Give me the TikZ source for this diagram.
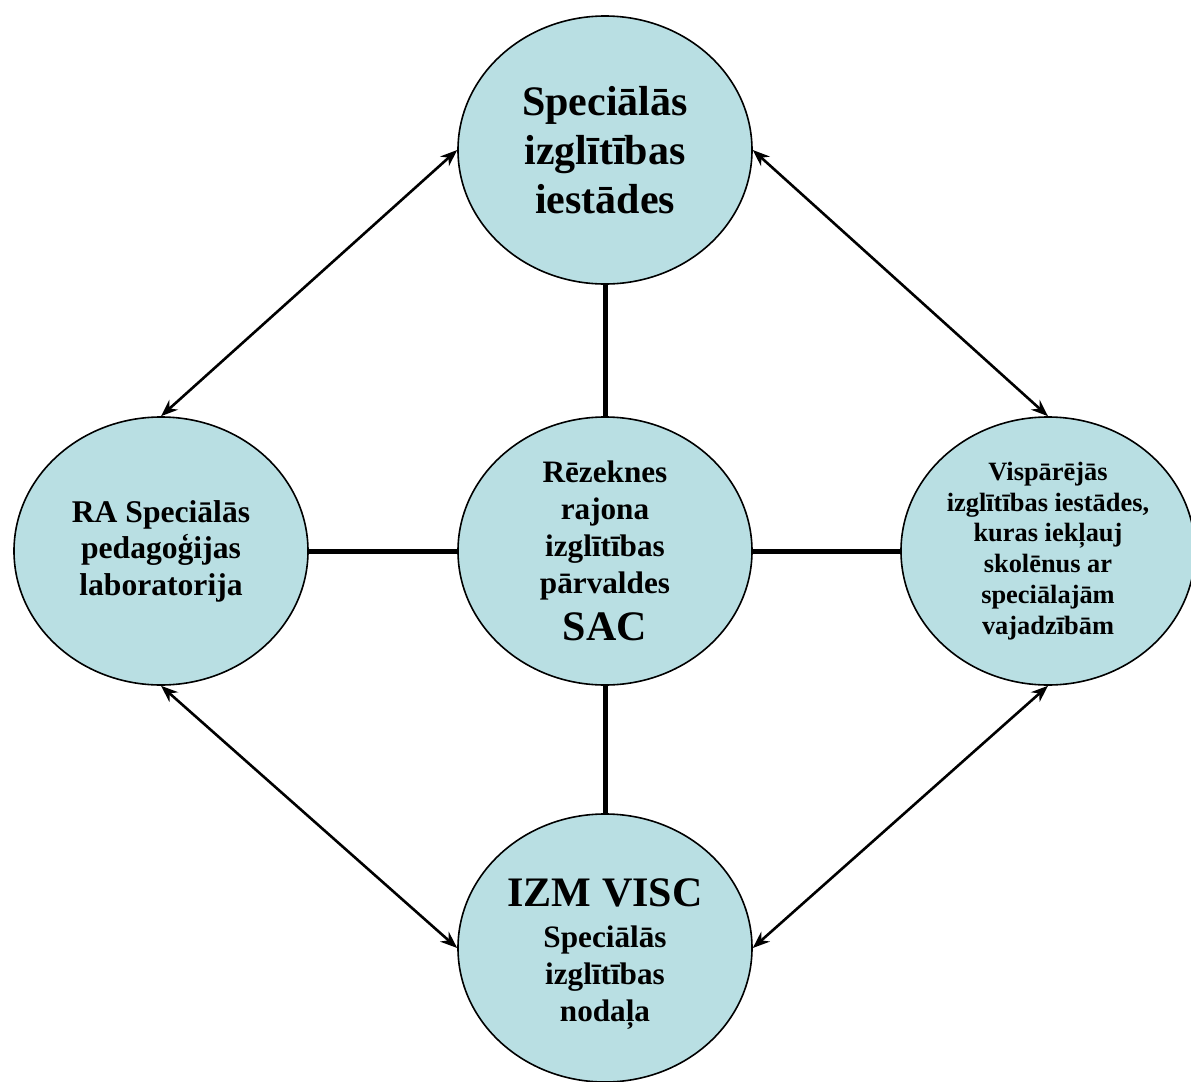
\documentclass[tikz,border=0pt]{standalone}
\usepackage{fontspec}
\setmainfont{Liberation Serif}
\usetikzlibrary{shapes.geometric,arrows.meta}
\definecolor{paleblue}{RGB}{185,223,227}

\begin{document}
\begin{tikzpicture}
[x=0.5pt, y=-0.5pt,
 every node/.style={inner sep=0pt},
 unit/.style={ellipse, minimum width=147pt, minimum height=134pt, fill=paleblue, draw=black, line width=0.8pt, align=center},
 link/.style={line width=2.5pt},
 flow/.style={line width=1.3pt, {Stealth[length=8.5pt,width=6.5pt]}-{Stealth[length=8.5pt,width=6.5pt]}}]
\useasboundingbox (0,0) rectangle (1191,1082);
\node (1) [unit, font=\bfseries\fontsize{21}{24.5}\selectfont] at (605,150) {Speciālās\\izglītības\\iestādes};
\node (2) [unit, font=\bfseries\fontsize{15.6}{18.5}\selectfont] at (605,551) {Rēzeknes\\rajona\\izglītības\\pārvaldes\\[5pt]{\fontsize{21}{24}\selectfont SAC}};
\node (3) [unit, font=\bfseries\fontsize{15.8}{18.3}\selectfont] at (161,551) {RA Speciālās\\pedagoģijas\\laboratorija};
\node (4) [unit, font=\bfseries\fontsize{13.2}{15.4}\selectfont] at (1048,551) {Vispārējās\\izglītības iestādes,\\kuras iekļauj\\skolēnus ar\\speciālajām\\vajadzībām};
\node (5) [unit, font=\bfseries\fontsize{15.6}{18.5}\selectfont] at (605,948) {\rule{0pt}{20pt}{\fontsize{21}{24}\selectfont IZM VISC}\\[2pt]Speciālās\\izglītības\\nodaļa};
\draw [link] (1) to (2);
\draw [link] (2) to (3);
\draw [link] (2) to (4);
\draw [link] (2) to (5);
\draw [flow] (3.north) to (1.west);
\draw [flow] (1.east) to (4.north);
\draw [flow] (3.south) to (5.west);
\draw [flow] (4.south) to (5.east);
\end{tikzpicture}
\end{document}
